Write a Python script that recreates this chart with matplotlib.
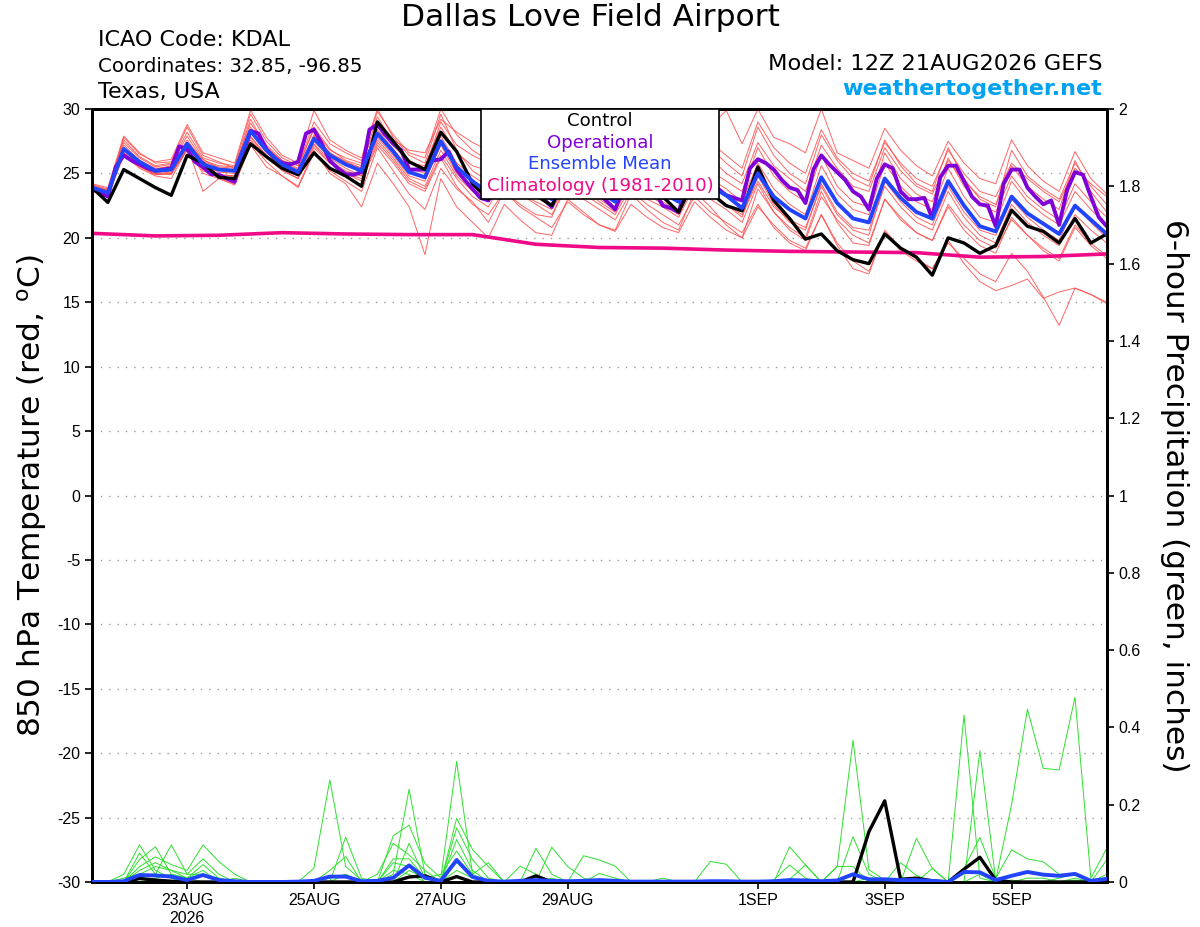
import matplotlib
matplotlib.use("Agg")
import matplotlib.pyplot as plt
import pandas as pd
from matplotlib.patches import Rectangle

plt.rcParams['font.family'] = ['DejaVu Sans']
plt.rcParams['axes.unicode_minus'] = False

# ── Time axes ────────────────────────────────────────────────────────────────
START = "2026-08-21 12:00"
times = pd.date_range(START, periods=65, freq="6h")
op_times = pd.date_range(START, periods=129, freq="3h")
clim_times = pd.date_range(START, periods=17, freq="D")

# ── 850 hPa temperature (C) ──────────────────────────────────────────────────
control_t = [23.9, 22.75, 25.3, 24.6, 23.9, 23.3, 26.4, 25.8, 24.7, 24.6, 27.3, 26.3,
             25.4, 24.9, 26.6, 25.4, 24.8, 24.0, 29.0, 27.5, 25.9, 25.3, 28.2, 26.7,
             24.2, 23.0, 25.0, 24.0, 23.3, 22.5, 24.8, 24.0, 23.5, 22.9, 24.8, 24.0,
             23.2, 22.0, 24.5, 23.5, 22.5, 22.1, 25.5, 22.9, 21.5, 19.9, 20.3, 19.0,
             18.3, 18.0, 20.3, 19.2, 18.5, 17.1, 20.0, 19.6, 18.8, 19.4, 22.15, 20.9,
             20.5, 19.6, 21.5, 19.6, 20.3]

mean_t = [23.9, 23.5, 26.9, 25.9, 25.2, 25.3, 27.3, 25.7, 25.3, 25.2, 28.3, 26.8,
          25.7, 25.1, 27.7, 26.4, 25.7, 25.2, 28.1, 26.7, 25.1, 24.7, 27.5, 25.5,
          24.4, 23.5, 25.5, 24.5, 23.8, 23.0, 25.2, 24.3, 23.6, 22.8, 25.0, 24.2,
          23.5, 22.8, 25.0, 24.0, 23.3, 22.3, 25.0, 23.2, 22.2, 21.5, 24.7, 22.7,
          21.5, 21.2, 24.6, 23.1, 22.0, 21.5, 24.4, 22.5, 20.9, 20.5, 23.2, 21.9,
          21.1, 20.3, 22.5, 21.4, 20.3]

# operational run is 3-hourly
oper_t = [23.9, 23.5, 23.2, 25.5, 26.4, 26.0, 25.7, 25.4,
          25.2, 25.3, 25.4, 27.1, 26.9, 25.9, 25.5, 24.95,
          24.9, 24.6, 24.35, 26.5, 28.3, 28.1, 26.9, 26.2,
          25.8, 25.7, 25.9, 28.1, 28.4, 27.3, 26.0, 25.4,
          24.95, 24.9, 25.1, 28.4, 28.8, 28.0, 27.3, 26.8,
          25.3, 25.3, 25.3, 26.0, 26.1, 26.7, 25.3, 24.5,
          23.8, 23.1, 22.9, 24.0, 25.5, 25.0, 24.5, 24.0,
          23.5, 23.0, 22.4, 24.0, 25.5, 25.2, 24.6, 24.0,
          23.4, 22.8, 22.2, 23.8, 25.3, 25.0, 24.4, 23.6,
          22.5, 22.3, 22.0, 24.0, 25.5, 25.2, 24.5, 23.8,
          23.3, 23.1, 22.9, 25.4, 26.1, 25.8, 25.3, 24.5,
          23.9, 23.7, 22.7, 25.3, 26.4, 25.7, 25.1, 24.5,
          23.6, 23.2, 22.2, 24.6, 25.7, 25.4, 23.6, 23.0,
          23.0, 23.1, 21.5, 24.7, 25.6, 25.6, 24.4, 23.2,
          22.6, 22.5, 20.9, 24.2, 25.3, 25.3, 23.9, 23.2,
          22.6, 22.9, 21.0, 23.7, 25.1, 24.9, 23.2, 21.6,
          20.9]

clim_t = [20.35, 20.15, 20.2, 20.4, 20.3, 20.25, 20.25, 19.5, 19.25,
          19.2, 19.05, 18.95, 18.9, 18.85, 18.5, 18.55, 18.75]

member_t1 = [24.0, 23.7, 27.6, 26.3, 25.6, 25.8, 28.2, 26.2, 25.8, 25.6, 29.6, 27.5,
             26.2, 25.6, 29.0, 27.3, 26.6, 26.0, 29.8, 28.0, 26.6, 26.2, 30.0, 28.0,
             26.8, 26.0, 29.2, 27.5, 26.4, 25.6, 29.8, 28.2, 27.0, 26.2, 29.0, 27.6,
             26.8, 25.8, 28.8, 27.4, 26.4, 25.4, 29.0, 27.0, 25.8, 25.0, 28.4, 26.2,
             25.0, 24.4, 27.4, 25.8, 24.6, 24.0, 26.8, 25.0, 23.6, 23.2, 25.8, 24.6,
             23.6, 22.8, 25.4, 24.2, 23.2]
member_t2 = [23.8, 23.4, 26.6, 25.6, 24.9, 25.0, 27.0, 25.3, 24.9, 24.8, 27.6, 26.2,
             25.2, 24.6, 27.0, 25.8, 25.0, 24.4, 27.2, 25.8, 24.2, 23.6, 26.2, 24.0,
             22.6, 21.8, 23.6, 22.4, 21.6, 20.8, 22.8, 21.8, 21.0, 20.5, 22.6, 21.6,
             20.8, 20.4, 22.8, 21.6, 20.6, 20.0, 22.4, 21.0, 19.8, 19.2, 21.8, 19.6,
             18.2, 17.4, 20.4, 19.0, 18.2, 17.6, 19.6, 18.4, 17.2, 16.6, 18.8, 17.4,
             15.4, 13.2, 16.1, 15.6, 14.9]
member_t3 = [23.6, 23.2, 26.4, 25.4, 24.8, 24.6, 26.9, 25.0, 24.6, 24.2, 27.4, 25.9,
             24.8, 24.0, 26.8, 25.0, 24.2, 22.4, 25.8, 24.2, 22.4, 18.7, 24.6, 22.4,
             21.2, 20.0, 22.6, 21.4, 20.4, 20.2, 23.0, 22.0, 21.0, 20.6, 23.4, 22.2,
             21.2, 20.6, 23.6, 22.4, 21.0, 20.0, 23.8, 22.0, 20.6, 19.8, 23.2, 21.4,
             20.2, 19.6, 23.0, 21.6, 20.4, 19.8, 22.6, 21.0, 19.8, 19.2, 21.4, 20.2,
             19.0, 18.2, 20.8, 19.4, 18.4]
member_t4 = [24.2, 23.9, 27.9, 26.6, 25.8, 25.9, 28.6, 26.4, 25.9, 25.4, 29.2, 27.0,
             26.0, 25.4, 28.6, 26.9, 26.0, 25.6, 29.4, 27.4, 26.0, 25.4, 29.0, 27.2,
             26.4, 25.8, 28.6, 27.8, 27.0, 26.4, 29.6, 28.4, 27.6, 26.8, 29.4, 28.6,
             27.8, 27.0, 29.4, 28.6, 29.9, 27.3, 30.0, 27.8, 27.3, 26.6, 30.0, 26.6,
             26.0, 25.4, 28.5, 26.8, 25.6, 24.8, 27.5, 25.8, 24.6, 24.2, 27.6, 25.6,
             24.4, 23.6, 26.7, 24.6, 23.4]
member_t5 = [23.9, 23.6, 27.2, 26.0, 25.4, 25.5, 27.6, 25.9, 25.5, 25.4, 28.6, 27.0,
             25.9, 25.3, 28.0, 26.6, 25.9, 25.4, 28.4, 26.9, 25.4, 25.0, 27.9, 25.8,
             24.8, 24.0, 26.2, 25.2, 24.4, 23.6, 26.0, 25.0, 24.2, 23.4, 25.6, 24.8,
             24.0, 23.2, 25.6, 24.6, 23.8, 22.8, 25.8, 23.8, 22.6, 21.8, 25.6, 23.4,
             22.2, 21.8, 25.8, 24.0, 22.8, 22.2, 25.4, 23.2, 21.6, 21.2, 24.4, 22.8,
             21.8, 21.0, 23.6, 22.2, 21.0]
member_t6 = [23.7, 23.3, 26.5, 25.5, 24.9, 25.0, 26.8, 25.2, 24.8, 24.6, 27.8, 26.3,
             25.3, 24.6, 27.2, 25.8, 25.0, 24.6, 27.4, 26.0, 24.4, 23.8, 26.4, 24.6,
             23.2, 22.4, 24.6, 23.4, 22.6, 21.8, 24.0, 23.0, 22.2, 21.4, 23.6, 22.6,
             21.8, 21.0, 23.2, 22.0, 21.2, 20.4, 22.6, 20.8, 19.6, 19.0, 21.8, 19.4,
             17.6, 17.2, 20.6, 19.2, 18.4, 17.6, 19.8, 18.0, 16.6, 15.9, 16.3, 16.8,
             15.3, 15.8, 16.1, 15.6, 15.0]
member_t7 = [24.1, 23.8, 27.4, 26.2, 25.5, 25.7, 27.9, 26.0, 25.6, 25.5, 28.9, 27.2,
             26.0, 25.6, 28.4, 26.8, 26.2, 25.8, 28.8, 27.2, 25.8, 25.6, 28.6, 26.6,
             25.6, 25.2, 27.6, 26.4, 25.6, 24.8, 27.8, 26.6, 25.6, 24.6, 27.2, 26.2,
             25.2, 24.4, 27.6, 26.2, 25.0, 24.2, 27.4, 25.6, 24.6, 23.6, 27.2, 25.4,
             24.0, 23.6, 27.0, 25.2, 24.0, 23.4, 26.0, 24.4, 23.2, 22.6, 25.6, 24.0,
             23.0, 22.2, 26.0, 23.6, 22.0]
member_t8 = [23.8, 23.4, 26.8, 25.7, 25.0, 24.9, 26.9, 25.4, 24.9, 24.8, 27.9, 26.4,
             25.4, 24.8, 27.3, 26.0, 25.2, 24.8, 27.6, 26.2, 24.6, 24.0, 26.8, 24.8,
             23.6, 22.8, 24.4, 23.4, 22.8, 22.2, 24.2, 23.4, 22.6, 21.8, 24.0, 23.0,
             22.4, 21.6, 24.0, 23.0, 22.2, 21.2, 24.2, 22.0, 20.8, 20.0, 23.6, 21.2,
             19.6, 19.4, 23.0, 21.4, 20.4, 19.8, 22.4, 20.6, 19.4, 18.8, 21.6, 20.2,
             19.2, 18.4, 21.0, 19.6, 18.6]
member_t9 = [24.0, 23.6, 27.8, 26.5, 25.9, 26.1, 28.8, 26.6, 26.2, 25.8, 29.9, 27.8,
             26.4, 25.8, 29.9, 27.6, 26.8, 26.2, 30.0, 27.8, 26.4, 25.8, 29.6, 26.8,
             25.2, 24.4, 26.8, 25.6, 24.8, 23.8, 26.4, 25.4, 24.6, 23.8, 26.6, 25.6,
             24.8, 24.0, 26.4, 25.2, 24.4, 23.6, 27.0, 24.8, 23.6, 22.8, 26.4, 24.0,
             22.8, 22.4, 26.6, 24.6, 23.4, 22.8, 26.2, 24.0, 22.6, 22.0, 24.8, 23.2,
             22.2, 21.4, 24.2, 22.8, 21.6]
member_t10 = [23.9, 23.5, 26.6, 25.8, 25.1, 25.2, 27.1, 23.6, 24.6, 24.1, 27.2, 25.5,
              24.8, 23.9, 26.6, 25.2, 24.4, 23.6, 27.0, 25.2, 23.4, 22.2, 25.4, 23.8,
              22.8, 21.2, 23.6, 22.6, 21.8, 21.6, 24.6, 23.8, 22.8, 22.0, 24.4, 23.4,
              22.6, 21.8, 24.4, 23.4, 22.6, 21.6, 24.8, 22.6, 21.2, 20.6, 24.2, 22.0,
              20.8, 20.6, 24.0, 22.4, 21.2, 20.6, 23.6, 21.6, 20.2, 19.6, 22.6, 21.2,
              20.2, 19.4, 21.8, 20.6, 19.6]
member_t11 = [24.1, 23.7, 27.0, 26.0, 25.3, 25.6, 27.4, 26.1, 25.4, 25.3, 28.4, 27.0,
              25.8, 25.2, 27.9, 26.6, 25.9, 25.4, 28.2, 27.6, 26.8, 26.6, 29.2, 28.2,
              27.4, 26.8, 28.8, 27.6, 26.6, 25.8, 28.6, 27.4, 26.2, 25.2, 27.8, 26.8,
              25.8, 25.0, 28.2, 27.0, 25.8, 24.8, 28.6, 26.4, 25.0, 24.2, 28.0, 26.0,
              24.6, 24.0, 27.6, 25.6, 24.2, 23.6, 27.0, 24.6, 23.0, 22.4, 26.8, 24.8,
              23.8, 23.0, 25.8, 24.0, 22.6]
member_t12 = [23.7, 23.4, 26.9, 25.6, 25.0, 25.1, 27.2, 25.6, 25.1, 25.0, 28.2, 26.6,
              25.5, 24.9, 27.5, 26.2, 25.4, 24.8, 27.8, 26.4, 24.8, 24.4, 27.2, 25.0,
              23.8, 23.0, 25.2, 24.0, 23.2, 22.4, 24.8, 23.8, 23.0, 22.2, 24.6, 23.6,
              22.8, 22.0, 24.6, 23.6, 22.6, 21.8, 24.4, 22.4, 21.4, 20.8, 24.0, 21.8,
              20.6, 20.2, 24.4, 22.8, 21.6, 21.0, 24.0, 22.0, 20.6, 20.2, 23.0, 21.6,
              20.6, 19.8, 22.6, 21.2, 20.0]

# ── 6-hour precipitation (inches) ────────────────────────────────────────────
control_p = [0, 0, 0, 0.009, 0.005, 0.002, 0, 0, 0, 0, 0, 0,
             0, 0, 0, 0, 0, 0, 0, 0, 0.013, 0.016, 0, 0.014,
             0, 0, 0, 0, 0.016, 0, 0, 0, 0, 0, 0, 0,
             0, 0, 0, 0, 0, 0, 0, 0, 0, 0, 0, 0,
             0, 0.13, 0.21, 0.007, 0.01, 0.003, 0, 0.033, 0.064, 0.005, 0, 0,
             0, 0, 0, 0, 0]

mean_p = [0, 0, 0.002, 0.018, 0.017, 0.014, 0.005, 0.018, 0.005, 0.002, 0, 0,
          0, 0.001, 0.003, 0.014, 0.014, 0.002, 0.003, 0.011, 0.043, 0.011, 0.003, 0.057,
          0.013, 0.003, 0.001, 0.003, 0.005, 0.003, 0.002, 0.003, 0.005, 0.003, 0.001, 0.001,
          0.001, 0.001, 0.001, 0.002, 0.002, 0.001, 0.001, 0.002, 0.005, 0.004, 0.002, 0.004,
          0.02, 0.007, 0.007, 0.005, 0.005, 0.003, 0, 0.026, 0.025, 0.005, 0.016, 0.026,
          0.019, 0.016, 0.021, 0.003, 0.008]

member_p1 = [0, 0, 0.02, 0.096, 0.03, 0.01, 0, 0, 0, 0, 0, 0,
             0, 0, 0.036, 0.264, 0.04, 0.005, 0, 0.02, 0.24, 0.02, 0, 0.06,
             0.01, 0, 0, 0, 0, 0, 0, 0, 0, 0, 0, 0,
             0, 0, 0, 0, 0, 0, 0, 0, 0, 0, 0, 0.04,
             0.367, 0.032, 0.005, 0, 0, 0, 0, 0, 0, 0, 0, 0,
             0, 0, 0, 0, 0]
member_p2 = [0, 0, 0, 0.058, 0.091, 0.02, 0.01, 0.045, 0.01, 0, 0, 0,
             0, 0, 0, 0, 0.116, 0.01, 0, 0.12, 0.147, 0.048, 0.01, 0.312,
             0.02, 0, 0, 0, 0, 0, 0, 0, 0, 0, 0, 0,
             0, 0, 0, 0, 0, 0, 0, 0, 0, 0, 0, 0,
             0, 0, 0, 0, 0, 0, 0, 0.432, 0.01, 0, 0, 0,
             0, 0, 0, 0, 0]
member_p3 = [0, 0, 0, 0.075, 0.02, 0.096, 0.02, 0.02, 0, 0, 0, 0,
             0, 0, 0, 0.03, 0.066, 0, 0, 0, 0.1, 0.01, 0, 0.165,
             0.084, 0.04, 0, 0, 0.087, 0.02, 0, 0, 0, 0, 0, 0,
             0, 0, 0, 0, 0, 0, 0, 0, 0, 0, 0, 0,
             0, 0, 0, 0, 0, 0, 0, 0, 0.34, 0.005, 0.2, 0.447,
             0.294, 0.29, 0.478, 0.01, 0.087]
member_p4 = [0, 0, 0, 0.04, 0.065, 0.045, 0.03, 0.096, 0.053, 0.02, 0, 0,
             0, 0, 0, 0, 0, 0, 0.02, 0.1, 0.07, 0.03, 0, 0.14,
             0.058, 0.01, 0, 0, 0, 0.09, 0.04, 0.01, 0, 0, 0, 0,
             0, 0, 0, 0, 0, 0, 0, 0, 0.091, 0.044, 0, 0,
             0, 0, 0, 0, 0.113, 0.035, 0, 0, 0, 0, 0, 0,
             0, 0, 0, 0, 0]
member_p5 = [0, 0, 0, 0.03, 0.05, 0.03, 0.02, 0.06, 0.02, 0, 0, 0,
             0, 0, 0, 0, 0.02, 0, 0, 0.05, 0.04, 0, 0, 0.11,
             0.03, 0, 0, 0.041, 0.02, 0, 0, 0.068, 0.057, 0.041, 0, 0,
             0, 0, 0, 0.053, 0.046, 0, 0, 0, 0, 0, 0, 0,
             0.117, 0.02, 0, 0, 0, 0, 0, 0.035, 0.115, 0.01, 0.083, 0.06,
             0.052, 0.02, 0.02, 0, 0.057]
member_p6 = [0, 0, 0.01, 0.02, 0.04, 0.03, 0.01, 0.03, 0, 0.01, 0, 0,
             0, 0, 0, 0, 0, 0, 0, 0.06, 0.06, 0.01, 0.02, 0.08,
             0.02, 0.05, 0, 0, 0, 0, 0, 0, 0.022, 0.01, 0, 0,
             0.01, 0, 0, 0, 0, 0, 0, 0.005, 0.044, 0.01, 0, 0.04,
             0.04, 0, 0, 0.05, 0.017, 0, 0, 0, 0, 0, 0, 0.01,
             0.01, 0, 0.005, 0, 0.02]
member_p7 = [0, 0, 0, 0.01, 0.02, 0.01, 0, 0.02, 0.01, 0, 0, 0,
             0, 0, 0, 0.01, 0.02, 0, 0, 0.03, 0.02, 0, 0.005, 0.05,
             0.015, 0, 0, 0, 0, 0, 0, 0, 0, 0, 0, 0,
             0, 0.003, 0.003, 0, 0, 0, 0, 0, 0.007, 0.044, 0, 0,
             0, 0, 0, 0, 0, 0.035, 0, 0, 0, 0, 0.005, 0,
             0, 0, 0.01, 0, 0.01]
member_p8 = [0, 0, 0, 0, 0.01, 0.02, 0.01, 0, 0, 0, 0, 0,
             0, 0.003, 0, 0, 0, 0, 0, 0, 0.03, 0.01, 0, 0.03,
             0.01, 0, 0, 0, 0, 0.01, 0, 0, 0, 0, 0, 0,
             0, 0, 0, 0, 0, 0, 0, 0, 0, 0, 0, 0,
             0, 0.01, 0.005, 0, 0, 0, 0, 0, 0.02, 0, 0, 0,
             0, 0.01, 0.02, 0.005, 0]

members_t = [member_t1, member_t2, member_t3, member_t4, member_t5, member_t6,
             member_t7, member_t8, member_t9, member_t10, member_t11, member_t12]
members_p = [member_p1, member_p2, member_p3, member_p4, member_p5, member_p6,
             member_p7, member_p8]

tick_days = ["2026-08-23", "2026-08-25", "2026-08-27", "2026-08-29",
             "2026-09-01", "2026-09-03", "2026-09-05"]
tick_labels = ["23AUG\n2026", "25AUG", "27AUG", "29AUG", "1SEP", "3SEP", "5SEP"]
left_ticks = list(range(-30, 31, 5))
right_ticks = [0, 0.2, 0.4, 0.6, 0.8, 1, 1.2, 1.4, 1.6, 1.8, 2]

# ── Colours ──────────────────────────────────────────────────────────────────
C_MEMBER = "#ff4a4a"
C_PRECIP = "#2ee02e"
C_OPER = "#8000d8"
C_MEAN = "#2244ff"
C_CLIM = "#f00a88"
TICK_FONT = "Liberation Sans"

fig = plt.figure(figsize=(12, 9.27), dpi=100)
ax = fig.add_axes([92 / 1200, 45 / 927, 1014.7 / 1200, 773 / 927])

for m in members_t:
    ax.plot(times[:len(m)], m, color=C_MEMBER, lw=0.7, alpha=0.85, zorder=2)
ax.plot(clim_times, clim_t, color=C_CLIM, lw=2.6, zorder=3)
ax.plot(op_times[:len(oper_t)], oper_t, color=C_OPER, lw=2.8, zorder=4)
ax.plot(times[:len(control_t)], control_t, color="black", lw=2.4, zorder=5)
ax.plot(times[:len(mean_t)], mean_t, color=C_MEAN, lw=2.8, zorder=6)

ax.set_ylim(-30, 30)
ax.set_yticks(left_ticks)
ax.set_yticklabels([str(v) for v in left_ticks], fontfamily=TICK_FONT, fontsize=11.5)
ax.set_xlim(times[0], times[-1])
ax.set_xticks(pd.to_datetime(tick_days))
ax.set_xticklabels(tick_labels, fontfamily=TICK_FONT, fontsize=11.5)
ax.yaxis.grid(True, linestyle=(0, (1, 5)), color="#999999", lw=1)
ax.set_axisbelow(True)
ax.tick_params(axis="both", length=5, width=1.2, direction="out")
ax.tick_params(axis="x", pad=3)
for s in ax.spines.values():
    s.set_linewidth(2)
ax.set_ylabel("850 hPa Temperature (red, $^{\\mathrm{o}}$C)", fontsize=22.5, va="center")
ax.yaxis.set_label_coords((32 - 92) / 1014.7, 0.5)

ax2 = ax.twinx()
for m in members_p:
    ax2.plot(times[:len(m)], m, color=C_PRECIP, lw=0.7, zorder=2)
ax2.plot(times[:len(control_p)], control_p, color="black", lw=2.4, zorder=4)
ax2.plot(times[:len(mean_p)], mean_p, color=C_MEAN, lw=2.8, zorder=5)
ax2.set_ylim(0, 2)
ax2.set_yticks(right_ticks)
ax2.set_yticklabels(["%g" % v for v in right_ticks], fontfamily=TICK_FONT, fontsize=11.5)
ax2.tick_params(axis="y", length=5, width=1.2, direction="out")
for s in ax2.spines.values():
    s.set_linewidth(2)
ax2.set_ylabel("6-hour Precipitation (green, inches)", fontsize=22.5, rotation=270, va="center")
ax2.yaxis.set_label_coords((1175 - 92) / 1014.7, 0.5)

# ── Legend box ───────────────────────────────────────────────────────────────
box_l, box_r = (481 - 92) / 1014.7, (719 - 92) / 1014.7
box_b = (882 - 199) / 773
ax2.add_patch(Rectangle((box_l, box_b), box_r - box_l, 1 - box_b, transform=ax2.transAxes,
                        facecolor="white", edgecolor="black", lw=1.2, zorder=20, clip_on=False))
for k, (lab, col) in enumerate([("Control", "black"), ("Operational", C_OPER),
                                ("Ensemble Mean", C_MEAN),
                                ("Climatology (1981-2010)", C_CLIM)]):
    y_px = 121 + k * 21.5
    ax2.text((box_l + box_r) / 2, (882 - y_px) / 773, lab, color=col, fontsize=13.1,
             ha="center", va="center", transform=ax2.transAxes, zorder=21)

# ── Header text ──────────────────────────────────────────────────────────────
def fy(px):
    return 1 - px / 927

fig.text(590 / 1200, fy(18), "Dallas Love Field Airport", fontsize=22.5, ha="center", va="center")
fig.text(98 / 1200, fy(40), "ICAO Code: KDAL", fontsize=16, ha="left", va="center")
fig.text(98 / 1200, fy(66), "Coordinates: 32.85, -96.85", fontsize=14.2, ha="left", va="center")
fig.text(98 / 1200, fy(92), "Texas, USA", fontsize=16, ha="left", va="center")
fig.text(1102 / 1200, fy(64), "Model: 12Z 21AUG2026 GEFS", fontsize=16.2, ha="right", va="center")
fig.text(1102 / 1200, fy(89), "weathertogether.net", fontsize=16, ha="right", va="center",
         color="#00a2f2", fontweight="bold")

fig.savefig("out.png", dpi=100)
